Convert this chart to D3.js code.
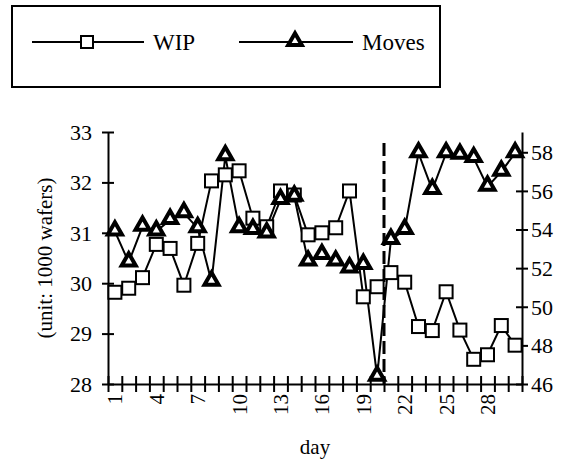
<!DOCTYPE html>
<html>
<head>
<meta charset="utf-8">
<script src="https://cdn.jsdelivr.net/npm/d3@7"></script>
<style>
  body { margin: 0; background: #fff; }
</style>
</head>
<body>
<script>
var width = 569;
var height = 466;
var margin = {top: 132, right: 47, bottom: 82, left: 108};
var serif = 'Liberation Serif, Times New Roman, DejaVu Serif, serif';

var days = d3.range(1, 31);
var wip = [29.82, 29.9, 30.11, 30.77, 30.69, 29.96, 30.79, 32.03, 32.15, 32.23,
           31.29, 31.12, 31.83, 31.75, 30.96, 31.0, 31.1, 31.83, 29.73, 29.93,
           30.21, 30.02, 29.14, 29.06, 29.83, 29.07, 28.49, 28.58, 29.16, 28.77];
var moves = [53.9, 52.3, 54.15, 53.9, 54.5, 54.85, 54.07, 51.3, 57.8, 54.07,
             53.98, 53.8, 55.53, 55.7, 52.34, 52.68, 52.34, 51.99, 52.17, 46.38,
             53.46, 53.98, 57.95, 56.05, 57.95, 57.87, 57.7, 56.22, 57.0, 57.95];
var dayLabels = [1, 4, 7, 10, 13, 16, 19, 22, 25, 28];
var leftTicks = [28, 29, 30, 31, 32, 33];
var rightTicks = [46, 48, 50, 52, 54, 56, 58];
var changeDay = 20.5;

var x = d3.scaleLinear().domain([0.5, 30.5]).range([margin.left, width - margin.right]);
var yLeft = d3.scaleLinear().domain([28, 33]).range([height - margin.bottom, margin.top]);
var yRight = d3.scaleLinear().domain([46, 59.05]).range([height - margin.bottom, margin.top]);

var svg = d3.select('body')
            .append('svg')
            .attr('width', width)
            .attr('height', height)
            .attr('font-family', serif);

// legend
var legend = svg.append('g');
legend.append('rect')
  .attr('x', 12).attr('y', 6).attr('width', 428).attr('height', 81)
  .attr('fill', 'none').attr('stroke', 'black').attr('stroke-width', 2);
legend.append('line')
  .attr('x1', 32).attr('x2', 144).attr('y1', 42).attr('y2', 42)
  .attr('stroke', 'black').attr('stroke-width', 2);
legend.append('rect')
  .attr('x', 81).attr('y', 36).attr('width', 12).attr('height', 12)
  .attr('fill', 'white').attr('stroke', 'black').attr('stroke-width', 2);
legend.append('text')
  .attr('x', 153).attr('y', 50).attr('font-size', 23).attr('font-family', serif).text('WIP');
legend.append('line')
  .attr('x1', 239).attr('x2', 353).attr('y1', 42).attr('y2', 42)
  .attr('stroke', 'black').attr('stroke-width', 2);
legend.append('path')
  .attr('d', d3.symbol().type(d3.symbolTriangle).size(80)())
  .attr('transform', 'translate(295,41)')
  .attr('fill', 'white').attr('stroke', 'black').attr('stroke-width', 4);
legend.append('text')
  .attr('x', 362).attr('y', 50).attr('font-size', 23).attr('font-family', serif).text('Moves');

// left axis
var gLeft = svg.append('g')
  .attr('transform', 'translate(' + margin.left + ',0)')
  .call(d3.axisLeft(yLeft).tickValues(leftTicks).tickFormat(d3.format('d')).tickSize(0).tickPadding(16));
gLeft.attr('font-family', serif);
gLeft.selectAll('.tick line').attr('x1', -6).attr('x2', 6);
gLeft.selectAll('text').attr('font-size', 22).attr('font-family', serif).attr('dy', '0.33em');

// right axis
var gRight = svg.append('g')
  .attr('transform', 'translate(' + (width - margin.right) + ',0)')
  .call(d3.axisRight(yRight).tickValues(rightTicks).tickFormat(d3.format('d')).tickSize(0).tickPadding(9));
gRight.attr('font-family', serif);
gRight.selectAll('.tick line').attr('x1', -6).attr('x2', 6);
gRight.selectAll('text').attr('font-size', 22).attr('font-family', serif).attr('dy', '0.33em');

// bottom axis: ticks at category boundaries, labels at centres
var gBottom = svg.append('g')
  .attr('transform', 'translate(0,' + (height - margin.bottom) + ')')
  .call(d3.axisBottom(x).tickValues(d3.range(0.5, 31, 1)).tickFormat('').tickSize(0));
gBottom.selectAll('.tick line').attr('y1', -8).attr('y2', 8);

var gLabels = svg.append('g')
  .attr('transform', 'translate(0,' + (height - margin.bottom) + ')')
  .call(d3.axisBottom(x).tickValues(dayLabels).tickFormat(d3.format('d')).tickSize(0));
gLabels.attr('font-family', serif);
gLabels.select('.domain').remove();
gLabels.selectAll('text')
  .attr('font-size', 21)
  .attr('font-family', serif)
  .attr('transform', 'rotate(-90)')
  .attr('text-anchor', 'end')
  .attr('x', -10).attr('y', 0).attr('dy', '0.33em');

svg.selectAll('.domain').attr('stroke', 'black').attr('stroke-width', 2);
svg.selectAll('.tick line').attr('stroke', 'black').attr('stroke-width', 2);

// axis titles
svg.append('text')
  .attr('transform', 'translate(52,' + ((margin.top + height - margin.bottom) / 2) + ') rotate(-90)')
  .attr('text-anchor', 'middle')
  .attr('font-size', 21)
  .attr('font-family', serif)
  .text('(unit: 1000 wafers)');
svg.append('text')
  .attr('x', (margin.left + width - margin.right) / 2)
  .attr('y', 454)
  .attr('text-anchor', 'middle')
  .attr('font-size', 21)
  .attr('font-family', serif)
  .text('day');

// dashed change line
svg.append('line')
  .attr('x1', x(changeDay)).attr('x2', x(changeDay))
  .attr('y1', 143).attr('y2', height - margin.bottom)
  .attr('stroke', 'black').attr('stroke-width', 3)
  .attr('stroke-dasharray', '13,5');

// WIP series
svg.append('path')
  .datum(wip)
  .attr('d', d3.line().x(function (d, i) { return x(days[i]); }).y(function (d) { return yLeft(d); }))
  .attr('fill', 'none').attr('stroke', 'black').attr('stroke-width', 2);

// Moves series
svg.append('path')
  .datum(moves)
  .attr('d', d3.line().x(function (d, i) { return x(days[i]); }).y(function (d) { return yRight(d); }))
  .attr('fill', 'none').attr('stroke', 'black').attr('stroke-width', 2);

svg.selectAll('rect.wip')
  .data(wip)
  .enter()
  .append('rect')
  .attr('class', 'wip')
  .attr('x', function (d, i) { return x(days[i]) - 6.5; })
  .attr('y', function (d) { return yLeft(d) - 6.5; })
  .attr('width', 13).attr('height', 13)
  .attr('fill', 'white').attr('stroke', 'black').attr('stroke-width', 2);

svg.selectAll('path.moves')
  .data(moves)
  .enter()
  .append('path')
  .attr('class', 'moves')
  .attr('d', d3.symbol().type(d3.symbolTriangle).size(85)())
  .attr('transform', function (d, i) { return 'translate(' + x(days[i]) + ',' + (yRight(d) - 1) + ')'; })
  .attr('fill', 'white').attr('stroke', 'black').attr('stroke-width', 4);
</script>
</body>
</html>
